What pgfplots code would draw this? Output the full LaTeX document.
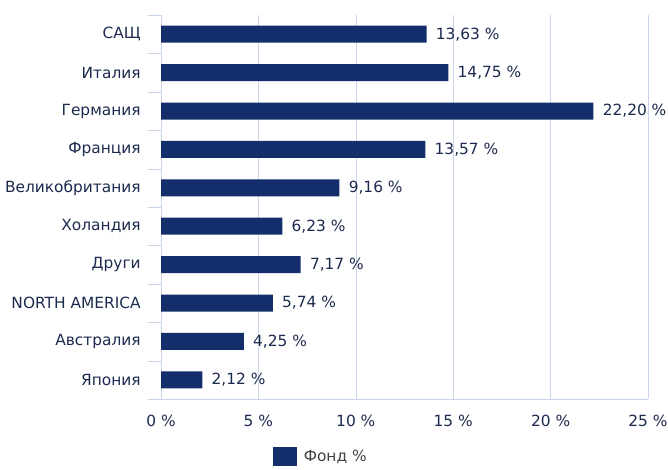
\documentclass[border=0pt]{standalone}
\usepackage{pgfplots}
\pgfplotsset{compat=1.18}
\usepackage{fontspec}
\setmainfont{DejaVu Sans}
\definecolor{barc}{HTML}{132E6A}
\definecolor{txtc}{HTML}{1B2A4E}
\definecolor{gridc}{HTML}{C9D6EA}
\definecolor{legc}{HTML}{404040}

\begin{document}
\fontsize{15.4bp}{18bp}\selectfont
\begin{tikzpicture}
\useasboundingbox (0bp,0bp) rectangle (668bp,470bp);
\begin{axis}[
    at={(161bp,71bp)}, anchor=south west,
    scale only axis, width=487bp, height=384bp,
    xbar, bar width=17bp,
    xmin=0, xmax=25, ymin=-0.5, ymax=9.5,
    y dir=reverse,
    clip=false,
    axis x line*=bottom, axis y line*=left,
    axis line style={draw=gridc, -},
    xmajorgrids, major grid style={draw=gridc},
    xtick={0,5,...,25},
    xticklabel={\pgfmathprintnumber{\tick}\ \%},
    /pgf/number format/assume math mode=true,
    ytick={0,...,9},
    yticklabels={САЩ,Италия,Германия,Франция,Великобритания,Холандия,Други,NORTH AMERICA,Австралия,Япония},
    minor ytick={-0.5,0.5,...,9.5},
    major tick length=0pt, minor tick length=13bp,
    tick align=outside, ytick pos=left, xtick pos=bottom,
    minor y tick style={draw=gridc},
    tick label style={text=txtc},
    xticklabel style={yshift=-11bp},
    yticklabel style={xshift=-15bp},
    point meta=x,
    nodes near coords={\pgfmathprintnumber[fixed,fixed zerofill,precision=2,use comma]{\pgfplotspointmeta}\ \%},
    nodes near coords align=horizontal,
    every node near coord/.append style={text=txtc, xshift=4bp},
    legend style={at={(0.328,-0.151)}, anchor=center, draw=none, fill=none, text=legc,
        /tikz/every odd column/.append style={column sep=5bp}},
    legend cell align=left,
]
\addplot[fill=barc, draw=none,
    legend image code/.code={\fill[barc] (0bp,-9.5bp) rectangle (24bp,9.5bp);}]
    coordinates {
    (13.63,0) (14.75,1) (22.20,2) (13.57,3) (9.16,4)
    (6.23,5) (7.17,6) (5.74,7) (4.25,8) (2.12,9)
};
\addlegendentry{Фонд \%}
\end{axis}
\end{tikzpicture}
\end{document}
